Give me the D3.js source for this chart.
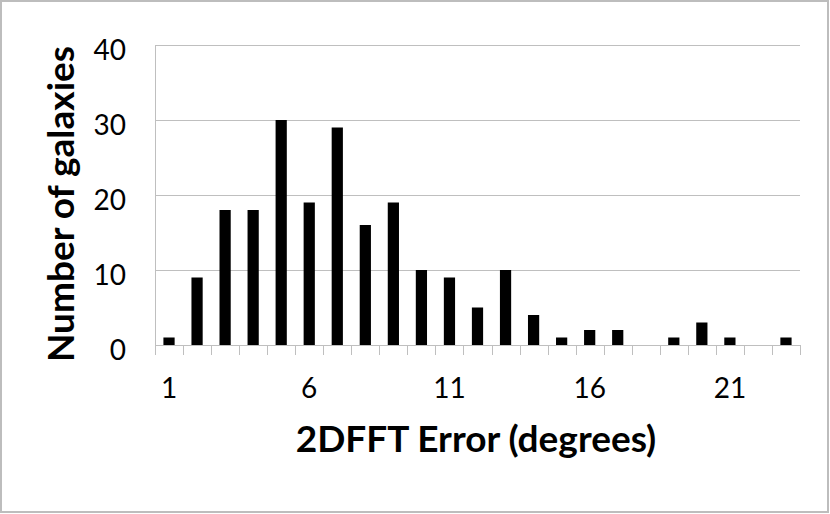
<!DOCTYPE html>
<html><head><meta charset="utf-8">
<script src="https://cdn.jsdelivr.net/npm/d3@7"></script>
<style>body{margin:0;background:#fff}svg{display:block}text{font-family:Lato,"Open Sans",sans-serif}</style>
</head><body>
<svg id="c" width="830" height="514"></svg>
<script>
const categories = d3.range(1, 24);
const counts = [1, 9, 18, 18, 30, 19, 29, 16, 19, 10, 9, 5, 10, 4, 1, 2, 2, 0, 1, 3, 1, 0, 1];
const yTicks = [0, 10, 20, 30, 40];
const xTickLabels = [1, 6, 11, 16, 21];

const svg = d3.select("#c");
svg.append("rect").attr("x", 1).attr("y", 1).attr("width", 827).attr("height", 511)
  .attr("fill", "#fff").attr("stroke", "#bdbdbd").attr("stroke-width", 2);

const L = 155, R = 800, T = 45, B = 345;
const x = d3.scaleBand().domain(categories).range([L, R]).paddingInner(0.6).paddingOuter(0.3);
const xb = d3.scaleBand().domain(categories).range([L, R]);
const y = d3.scaleLinear().domain([0, 40]).range([B, T]);

// gridlines
svg.append("g").selectAll("line").data(yTicks).join("line")
  .attr("x1", L).attr("x2", R).attr("y1", d => y(d) + 0.5).attr("y2", d => y(d) + 0.5)
  .attr("stroke", "#bfbfbf").attr("stroke-width", 1);

// vertical axis line
svg.append("line").attr("x1", L + 0.5).attr("x2", L + 0.5).attr("y1", T).attr("y2", B)
  .attr("stroke", "#bfbfbf");

// y labels
svg.append("g").selectAll("text").data(yTicks).join("text")
  .attr("x", 126).attr("y", d => y(d) + 14.5).attr("text-anchor", "end")
  .attr("font-size", 28).attr("fill", "#000").text(d => d);

// bars
svg.append("g").selectAll("rect").data(categories).join("rect")
  .attr("x", d => x(d)).attr("width", x.bandwidth())
  .attr("y", (d, i) => y(counts[i])).attr("height", (d, i) => B - y(counts[i]))
  .attr("fill", "#000");

// x axis
const xAxis = d3.axisBottom(xb).tickSize(0).tickPadding(0).tickFormat(d => xTickLabels.includes(d) ? d : "");
const gx = svg.append("g").attr("transform", `translate(0,${B})`).call(xAxis);
gx.select(".domain").remove();
gx.selectAll("text").attr("font-size", 28).attr("fill", "#000").attr("y", 53).attr("dy", null)
  .style("font-family", "Lato,'Open Sans',sans-serif");
// category boundary tick marks
const bounds = categories.map(d => xb(d)).concat([R]);
svg.append("g").selectAll("line").data(bounds).join("line")
  .attr("x1", d => Math.round(d) + 0.5).attr("x2", d => Math.round(d) + 0.5)
  .attr("y1", B).attr("y2", B + 10).attr("stroke", "#bfbfbf");

// titles
svg.append("text").attr("x", 476).attr("y", 452).attr("text-anchor", "middle")
  .attr("font-size", 37).attr("font-weight", "bold").text("2DFFT Error (degrees)");
svg.append("text").attr("transform", "translate(74,204) rotate(-90)").attr("text-anchor", "middle")
  .attr("font-size", 37).attr("font-weight", "bold").text("Number of galaxies");
</script>
</body></html>
